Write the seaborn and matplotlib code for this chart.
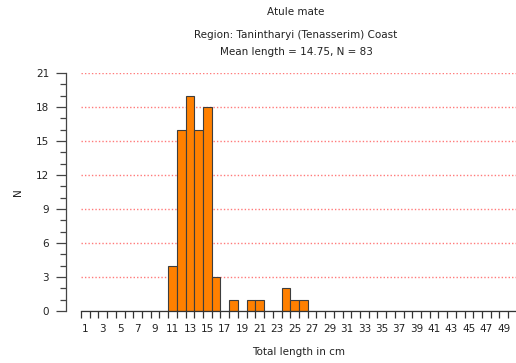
import numpy as np
import pandas as pd
import matplotlib
matplotlib.use("Agg")
import matplotlib.pyplot as plt
import seaborn as sns

# Length-frequency data: lower bound of each 1 cm class and its count
lengths = [11, 12, 13, 14, 15, 16, 18, 20, 21, 24, 25, 26]
counts = [4, 16, 19, 16, 18, 3, 1, 1, 1, 2, 1, 1]
class_labels = list(range(1, 51, 2))
y_ticks = [0, 3, 6, 9, 12, 15, 18, 21]

title = "Atule mate"
subtitle = "Region: Tanintharyi (Tenasserim) Coast"
n_total = sum(counts)
mean_len = sum((l + 0.5) * c for l, c in zip(lengths, counts)) / n_total

df = pd.DataFrame({"length": [l + 0.5 for l in lengths], "n": counts})

sns.set_style("white")
plt.rcParams["font.family"] = ["DejaVu Sans"]

fig = plt.figure(figsize=(5.16, 3.63), dpi=100)
ax = fig.add_axes([81 / 516, 1 - 311 / 363, 435 / 516, 238 / 363])

sns.histplot(data=df, x="length", weights="n", binwidth=1, binrange=(1, 51), ax=ax,
             color="#FF8000", edgecolor="#3d3d3d", linewidth=0.8, alpha=1.0)

ax.set_xlim(1, 50.9)
ax.set_ylim(0, 21)

# dotted reference lines
for y in y_ticks[1:]:
    ax.axhline(y, color="#ff7a7a", linestyle=(0, (1, 1.5)), linewidth=1.0, zorder=0)

ax.set_xticks([c + 0.5 for c in class_labels])
ax.set_xticklabels([str(c) for c in class_labels])
ax.set_xticks(np.arange(1, 51, 1), minor=True)
ax.set_yticks(y_ticks)
ax.set_yticks(np.arange(0, 22, 1), minor=True)

ax.tick_params(bottom=True, left=True, which="both")
ax.tick_params(axis="x", which="major", length=0, pad=9, labelsize=7.5, colors="#222222")
ax.tick_params(axis="x", which="minor", length=5, width=0.9, color="#333333", direction="out")
ax.tick_params(axis="y", which="major", length=7, width=0.9, color="#444444",
               labelsize=7.5, labelcolor="#222222", pad=5)
ax.tick_params(axis="y", which="minor", length=4, width=0.9, color="#444444")

for side in ["top", "right"]:
    ax.spines[side].set_visible(False)
ax.spines["left"].set_position(("outward", 11))
ax.spines["left"].set_color("#444444")
ax.spines["bottom"].set_color("#333333")
ax.spines["left"].set_linewidth(0.9)
ax.spines["bottom"].set_linewidth(0.9)

ax.set_xlabel("Total length in cm", fontsize=7.5, color="#222222", labelpad=10)
ax.set_ylabel("N", fontsize=7.5, color="#222222", labelpad=9)

fig.text(296 / 516, 1 - 12 / 363, title, ha="center", va="center", fontsize=7.5, color="#222222")
fig.text(296 / 516, 1 - 35 / 363, subtitle, ha="center", va="center", fontsize=7.5, color="#222222")
fig.text(296 / 516, 1 - 52 / 363, f"Mean length = {mean_len:.2f}, N = {n_total}",
         ha="center", va="center", fontsize=7.5, color="#222222")

fig.savefig("out.png", dpi=100)
